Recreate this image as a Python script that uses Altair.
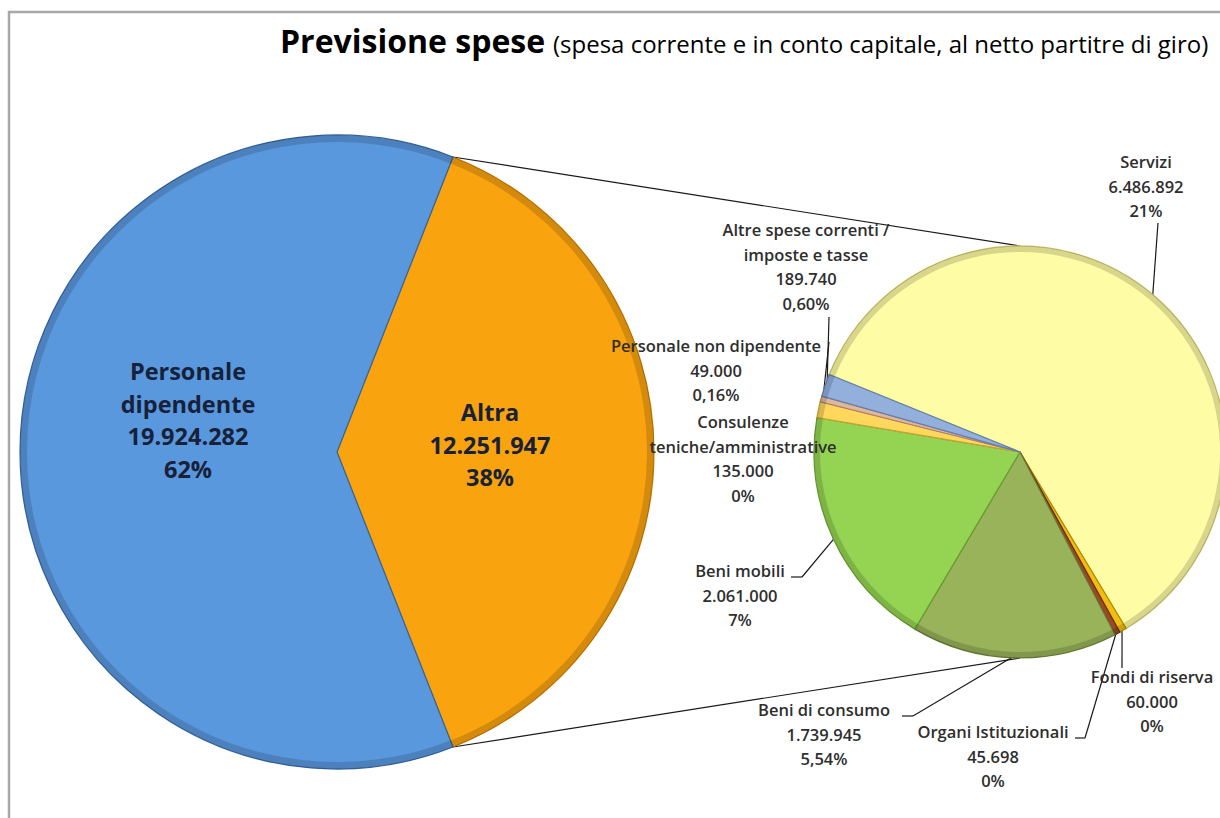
import math
import altair as alt
import pandas as pd

# ---------------- data ----------------
main_names = [["Altra"], ["Personale", "dipendente"]]
main_values = [12251947, 19924282]
main_pct = ["38%", "62%"]
main_colors = ["#F9A30F", "#5A98DE"]
main_rims = ["#C47800", "#35659F"]

sub_names = [
    ["Servizi"],
    ["Fondi di riserva"],
    ["Organi Istituzionali"],
    ["Beni di consumo"],
    ["Beni mobili"],
    ["Consulenze", "teniche/amministrative"],
    ["Personale non dipendente"],
    ["Altre spese correnti /", "imposte e tasse"],
]
sub_values = [6486892, 60000, 45698, 1739945, 2061000, 135000, 49000, 189740]
sub_pct = ["21%", "0%", "0%", "5,54%", "7%", "0%", "0,16%", "0,60%"]
sub_colors = ["#FEFCA4", "#F0BE10", "#9A4A22", "#98B35A", "#95D453",
              "#FFD75C", "#E2B69C", "#93AFDB"]
sub_rims = ["#C8C16A", "#B08800", "#6A2E10", "#687D36", "#699D31",
            "#C9A030", "#A8806A", "#5F7FB0"]

title_main = "Previsione spese"
title_sub = "(spesa corrente e in conto capitale, al netto partitre di giro)"

# ---------------- layout ----------------
W, H = 1220, 818
C1, R1 = (337.0, 452.0), 317.0
C2, R2 = (1020.0, 452.0), 206.0
SUB_START_DEG = 292.1           # where the first sub slice starts (clockwise from 12 o'clock)

main_label_pos = [(490, 414), (188, 373)]       # centre x, first line y
main_line_h = 32.5
sub_label_pos = [(1146, 163), (1152, 678), (993, 733), (824, 711),
                 (740, 572), (743, 423), (716, 347), (806, 231)]
sub_line_h = 24.5
# leader points from the label towards the slice (slice end is computed)
sub_leaders = [
    [(1158, 223)],
    [(1122, 668)],
    [(1075, 738), (1085, 738)],
    [(902, 716), (913, 716)],
    [(791, 577), (802, 577)],
    [],
    [(829, 342)],
    [(829, 317)],
]


def fmt(v):
    return f"{v:,}".replace(",", ".")


def pt(c, r, a):
    return (c[0] + r * math.sin(a), c[1] - r * math.cos(a))


# main pie angles: "Altra" centred on the right-hand side
tot1 = sum(main_values)
span_altra = main_values[0] / tot1 * 2 * math.pi
a = math.pi / 2 - span_altra / 2
main_angles = []
for v in main_values:
    s = v / tot1 * 2 * math.pi
    main_angles.append((a, a + s))
    a += s

tot2 = sum(sub_values)
a = math.radians(SUB_START_DEG)
sub_angles = []
for v in sub_values:
    s = v / tot2 * 2 * math.pi
    sub_angles.append((a, a + s))
    a += s

arc_rows = []
for i, (t0, t1) in enumerate(main_angles):
    arc_rows.append(dict(cx=C1[0], cy=C1[1], r=R1, t0=t0, t1=t1,
                         fill=main_colors[i], stroke=main_rims[i], rin=R1 - 7))
for i, (t0, t1) in enumerate(sub_angles):
    arc_rows.append(dict(cx=C2[0], cy=C2[1], r=R2, t0=t0, t1=t1,
                         fill=sub_colors[i], stroke=sub_rims[i], rin=R2 - 6))
arcs = pd.DataFrame(arc_rows)

# connectors between the two pies
p_top = pt(C1, R1, main_angles[0][0])
p_bot = pt(C1, R1, main_angles[0][1])
seg_rows = [
    dict(x=p_top[0], y=p_top[1], x2=C2[0], y2=C2[1] - R2),
    dict(x=p_bot[0], y=p_bot[1], x2=C2[0], y2=C2[1] + R2),
]
# leader lines
for i, pts in enumerate(sub_leaders):
    if not pts:
        continue
    mid = (sub_angles[i][0] + sub_angles[i][1]) / 2
    end = pt(C2, R2 - 2, mid)
    chain = pts + [end]
    for (xa, ya), (xb, yb) in zip(chain[:-1], chain[1:]):
        seg_rows.append(dict(x=xa, y=ya, x2=xb, y2=yb))
segs = pd.DataFrame(seg_rows)

main_text_rows = []
for i, name in enumerate(main_names):
    lines = name + [fmt(main_values[i]), main_pct[i]]
    x0, y0 = main_label_pos[i]
    for k, ln in enumerate(lines):
        main_text_rows.append(dict(x=x0, y=y0 + k * main_line_h, t=ln))
main_text = pd.DataFrame(main_text_rows)

sub_text_rows = []
for i, name in enumerate(sub_names):
    lines = name + [fmt(sub_values[i]), sub_pct[i]]
    x0, y0 = sub_label_pos[i]
    for k, ln in enumerate(lines):
        sub_text_rows.append(dict(x=x0, y=y0 + k * sub_line_h, t=ln))
sub_text = pd.DataFrame(sub_text_rows)

XS = alt.Scale(domain=[0, W], range=[0, W], nice=False, zero=False)
YS = alt.Scale(domain=[0, H], range=[0, H], nice=False, zero=False)


def X(f):
    return alt.X(f, scale=XS, axis=None)


def Y(f):
    return alt.Y(f, scale=YS, axis=None)


border = alt.Chart(pd.DataFrame({"a": [0]})).mark_rect(
    filled=False, stroke="#A8A8A8", strokeWidth=2.5
).encode(x=alt.value(9), y=alt.value(12), x2=alt.value(W + 40), y2=alt.value(H + 40))

pies = alt.Chart(arcs).mark_arc(strokeWidth=1.2).encode(
    x=X("cx:Q"), y=Y("cy:Q"),
    theta=alt.Theta("t0:Q", scale=None, stack=False),
    theta2=alt.Theta2("t1"),
    radius=alt.Radius("r:Q", scale=None),
    fill=alt.Fill("fill:N", scale=None),
    stroke=alt.Stroke("stroke:N", scale=None),
)

rims = alt.Chart(arcs).mark_arc(fill="#000000", fillOpacity=0.15, strokeWidth=0).encode(
    x=X("cx:Q"), y=Y("cy:Q"),
    theta=alt.Theta("t0:Q", scale=None, stack=False),
    theta2=alt.Theta2("t1"),
    radius=alt.Radius("r:Q", scale=None),
    radius2=alt.Radius2("rin"),
)

lines = alt.Chart(segs).mark_rule(color="#1a1a1a", strokeWidth=1.2).encode(
    x=X("x:Q"), y=Y("y:Q"), x2="x2", y2="y2"
)

main_lbl = alt.Chart(main_text).mark_text(
    font="Open Sans", fontWeight="bold", fontSize=23.5, color="#17213A",
    align="center", baseline="middle"
).encode(x=X("x:Q"), y=Y("y:Q"), text="t:N")

sub_lbl = alt.Chart(sub_text).mark_text(
    font="Open Sans", fontWeight=600, fontSize=16.5, color="#2e2e2e",
    align="center", baseline="middle"
).encode(x=X("x:Q"), y=Y("y:Q"), text="t:N")

t1 = alt.Chart(pd.DataFrame({"a": [0]})).mark_text(
    text=title_main, font="Open Sans", fontWeight="bold", fontSize=32,
    color="#000000", align="left", baseline="alphabetic"
).encode(x=alt.value(280), y=alt.value(53))

t2 = alt.Chart(pd.DataFrame({"a": [0]})).mark_text(
    text=title_sub, font="Open Sans", fontSize=24,
    color="#000000", align="left", baseline="alphabetic"
).encode(x=alt.value(553), y=alt.value(53))

chart = alt.layer(border, lines, pies, rims, main_lbl, sub_lbl, t1, t2).properties(
    width=W, height=H, padding=0, autosize="none", background="#ffffff"
).configure_view(strokeWidth=0)

chart.save("out.html", embed_options={"renderer": "svg", "actions": False})
